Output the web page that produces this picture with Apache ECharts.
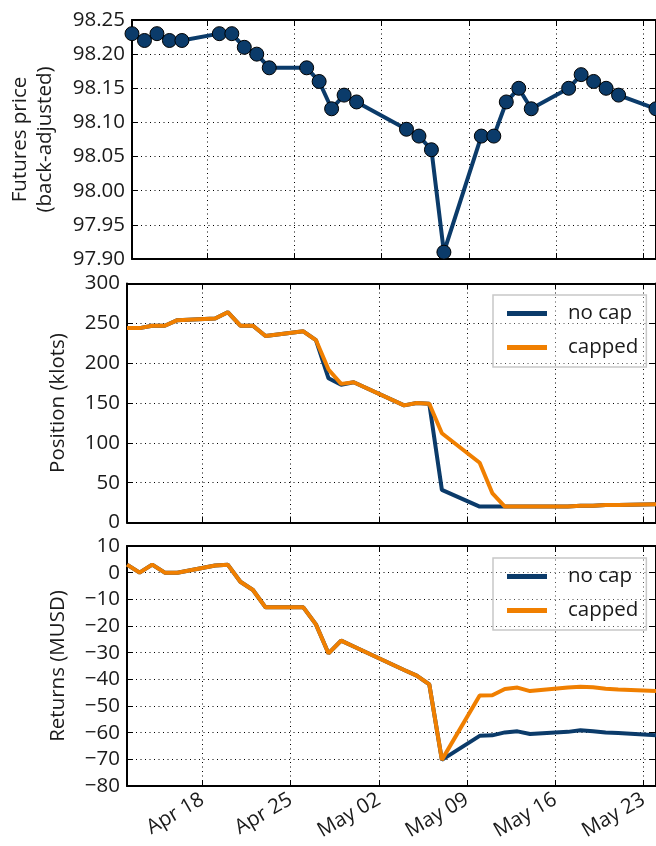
<!DOCTYPE html>
<html>
<head>
<meta charset="utf-8">
<script src="https://cdn.jsdelivr.net/npm/echarts@6/dist/echarts.min.js"></script>
<style>
html,body{margin:0;padding:0;background:#fff;overflow:hidden;}
#c{width:656px;height:846px;}
</style>
</head>
<body>
<div id="c"></div>
<script>
// ---- data ----
const dates = ['2010-04-12','2010-04-13','2010-04-14','2010-04-15','2010-04-16',
  '2010-04-19','2010-04-20','2010-04-21','2010-04-22','2010-04-23',
  '2010-04-26','2010-04-27','2010-04-28','2010-04-29','2010-04-30',
  '2010-05-04','2010-05-05','2010-05-06','2010-05-07',
  '2010-05-10','2010-05-11','2010-05-12','2010-05-13','2010-05-14',
  '2010-05-17','2010-05-18','2010-05-19','2010-05-20','2010-05-21',
  '2010-05-24'];
const price = [98.23,98.22,98.23,98.22,98.22,
  98.23,98.23,98.21,98.20,98.18,
  98.18,98.16,98.12,98.14,98.13,
  98.09,98.08,98.06,97.91,
  98.08,98.08,98.13,98.15,98.12,
  98.15,98.17,98.16,98.15,98.14,
  98.12];
const posNoCap = [244,244,247,247,254,
  256,264,247,247,234,
  240,229,181,173,176,
  147,150,149,41,
  20,20,20,20,20,
  20,21,21,22,22,
  23];
const posCapped = [244,244,247,247,254,
  256,264,247,247,234,
  240,229,192,174,176,
  147,150,149,112,
  75,37,20,20,20,
  20,21,21,22,22,
  23];
const retNoCap = [3,0,3,0,0,
  2.7,3,-3.4,-6.5,-13,
  -13,-19.4,-30.3,-25.5,-27.7,
  -36.5,-38.6,-41.9,-70.2,
  -61.2,-61,-59.9,-59.5,-60.5,
  -59.7,-59.1,-59.5,-59.9,-60.1,
  -61];
const retCapped = [3,0,3,0,0,
  2.7,3,-3.4,-6.5,-13,
  -13,-19.4,-30.3,-25.5,-27.7,
  -36.5,-38.6,-41.9,-70.2,
  -46.1,-46,-43.6,-43.1,-44.4,
  -43.1,-42.8,-43,-43.5,-43.8,
  -44.4];
const xTicks = ['2010-04-18','2010-04-25','2010-05-02','2010-05-09','2010-05-16','2010-05-23'];
const xTickLabels = ['Apr 18','Apr 25','May 02','May 09','May 16','May 23'];

// ---- helpers: dates -> day offsets from first date ----
const DAY = 86400000;
const toUTC = s => { const p = s.split('-').map(Number); return Date.UTC(p[0], p[1]-1, p[2]); };
const t0 = toUTC(dates[0]);
const dayOf = s => Math.round((toUTC(s) - t0) / DAY);
const xDays = dates.map(dayOf);
const tickDays = xTicks.map(dayOf);

// ---- style ----
const NAVY = '#0b3b6a';
const ORANGE = '#f07f00';
const FONT = 'Open Sans';
const FS = 20.5;
const TXT = '#1a1a1a';

const pair = (ys) => xDays.map((d, i) => [d, ys[i]]);

const grids = [
  {left:127, right:-3, top:20, height:239},
  {left:127, right:-3, top:283.5, height:239},
  {left:127, right:-3, top:546, height:240}
];

const xAxes = [];
const yAxes = [];
const yCfg = [
  {min:97.9, max:98.25, interval:0.05, fmt:v=>v.toFixed(2), name:'Futures price\n(back-adjusted)', gap:74},
  {min:0, max:300, interval:50, fmt:v=>String(Math.round(v)), name:'Position (klots)', gap:56},
  {min:-80, max:10, interval:10, fmt:v=>(Math.round(v)<0?'\u2212'+Math.abs(Math.round(v)):String(Math.round(v))), name:'Returns (MUSD)', gap:56}
];
const axisLine = {show:true, onZero:false, lineStyle:{color:'#000', width:2}};
const dotted = {show:true, lineStyle:{color:'#000', width:1, type:[1,3.5]}};
const xMin = xDays[0], xMax = xDays[xDays.length-1];
const xFmt = v => { const k = tickDays.indexOf(Math.round(v)); return k >= 0 ? xTickLabels[k] : ''; };

for (let i = 0; i < 3; i++) {
  xAxes.push({
    type:'value', gridIndex:i, position:'bottom',
    min:xMin, max:xMax,
    axisLine:axisLine,
    axisTick:{show:true, inside:true, length:6, customValues:tickDays, lineStyle:{color:'#000', width:1}},
    axisLabel:{show:i===2, customValues:tickDays, rotate:30, margin:12,
      fontFamily:FONT, fontSize:FS, color:TXT, formatter:xFmt},
    splitLine:dotted
  });
  xAxes.push({
    type:'value', gridIndex:i, position:'top',
    min:xMin, max:xMax,
    axisLine:axisLine,
    axisTick:{show:true, inside:true, length:6, customValues:tickDays, lineStyle:{color:'#000', width:1}},
    axisLabel:{show:false, customValues:tickDays},
    splitLine:{show:false}
  });
  const c = yCfg[i];
  yAxes.push({
    type:'value', gridIndex:i, position:'left',
    min:c.min, max:c.max, interval:c.interval,
    name:c.name, nameLocation:'middle', nameGap:c.gap, nameRotate:90,
    nameTextStyle:{fontFamily:FONT, fontSize:FS, color:TXT, lineHeight:25},
    axisLine:axisLine,
    axisTick:{show:true, inside:true, length:6, lineStyle:{color:'#000', width:1}},
    axisLabel:{show:true, margin:7, fontFamily:FONT, fontSize:FS, color:TXT, formatter:c.fmt},
    splitLine:dotted
  });
  yAxes.push({
    type:'value', gridIndex:i, position:'right',
    min:c.min, max:c.max, interval:c.interval,
    axisLine:axisLine,
    axisTick:{show:true, inside:true, length:6, lineStyle:{color:'#000', width:1}},
    axisLabel:{show:false},
    splitLine:{show:false}
  });
}

const lineSeries = (name, data, color, xi, yi) => ({
  type:'line', name:name, data:data, xAxisIndex:xi, yAxisIndex:yi,
  symbol:'none', lineStyle:{color:color, width:4}, itemStyle:{color:color},
  z:5
});

const series = [
  {type:'line', name:'price', data:pair(price), xAxisIndex:0, yAxisIndex:0,
   symbol:'circle', symbolSize:14, showAllSymbol:true,
   lineStyle:{color:NAVY, width:4}, itemStyle:{color:NAVY, borderColor:'#000', borderWidth:1}, z:5},
  lineSeries('no cap', pair(posNoCap), NAVY, 2, 2),
  lineSeries('capped', pair(posCapped), ORANGE, 2, 2),
  lineSeries('no cap', pair(retNoCap), NAVY, 4, 4),
  lineSeries('capped', pair(retCapped), ORANGE, 4, 4)
];

const legendCfg = (top) => ({
  show:true, orient:'vertical', left:493, top:top,
  data:['no cap','capped'], selectedMode:false,
  icon:'rect', itemWidth:40, itemHeight:5, itemGap:11,
  padding:[7,8,8,14],
  borderColor:'#c8c8c8', borderWidth:1.5, backgroundColor:'rgba(255,255,255,0.3)',
  textStyle:{fontFamily:FONT, fontSize:FS, color:TXT, padding:[0,0,0,16], lineHeight:23}
});

const chart = echarts.init(document.getElementById('c'), null, {renderer:'canvas'});
chart.setOption({
  animation:false,
  backgroundColor:'#fff',
  grid:grids,
  xAxis:xAxes,
  yAxis:yAxes,
  legend:[legendCfg(295), legendCfg(558)],
  series:series
});
</script>
</body>
</html>
